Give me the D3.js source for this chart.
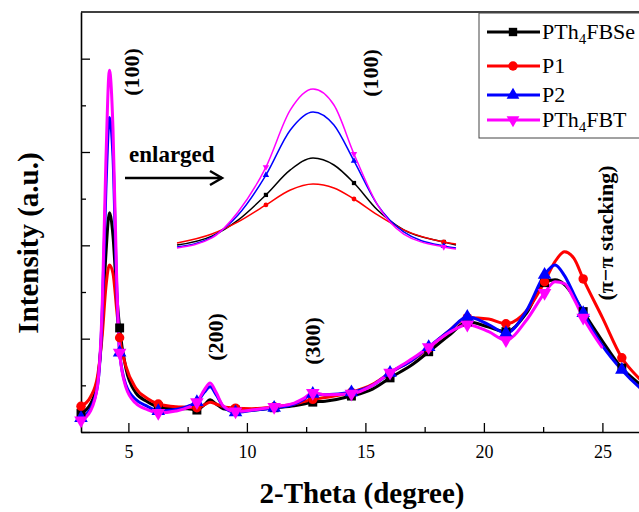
<!DOCTYPE html>
<html>
<head>
<meta charset="utf-8">
<script src="https://cdn.jsdelivr.net/npm/d3@7"></script>
<style>
  body { margin: 0; background: #fff; }
  svg { display: block; }
  svg text { font-family: "Liberation Serif", "Times New Roman", serif; fill: #000; }
</style>
</head>
<body>
<svg id="chart" width="639" height="512" font-family="Liberation Serif"></svg>
<script>
// 2-theta grid that the curves were read on
const theta = [3.0, 3.4, 3.7, 3.9, 4.05, 4.2, 4.35, 4.5, 4.63, 4.9, 5.3, 5.8, 6.26, 7.0, 7.5, 7.89, 8.2, 8.45, 8.7, 9.0,
  9.52, 10.2, 11.15, 12.0, 12.4, 12.78, 13.3, 14.41, 15.3, 16.04, 17.0, 17.67, 18.6, 19.3, 20.2, 20.93, 21.8, 22.56,
  23.0, 23.4, 23.8, 24.19, 25.0, 25.82, 26.6, 27.45]

// intensities (a.u.)
const pth4fbse = [40, 60, 110, 230, 380, 470, 420, 300, 223, 135, 85, 65, 54, 50, 50, 47, 58, 69, 60, 50,
  47, 47, 52, 56, 60, 64, 66, 77, 92, 116, 145, 172, 210, 236, 225, 215, 255, 320,
  326, 316, 290, 258, 195, 137, 102, 70]
const p1 = [55, 75, 120, 210, 310, 358, 340, 265, 202, 140, 95, 72, 60, 54, 53, 52, 58, 64, 60, 54,
  51, 50, 54, 60, 65, 70, 74, 85, 102, 127, 155, 180, 220, 245, 242, 232, 260, 322,
  365, 386, 372, 328, 245, 159, 112, 70]
const p2 = [30, 50, 100, 260, 520, 674, 590, 320, 170, 100, 70, 55, 45, 48, 55, 64, 85, 97, 80, 55,
  42, 46, 52, 60, 70, 82, 80, 85, 100, 127, 155, 182, 220, 247, 230, 212, 260, 337,
  358, 335, 295, 255, 185, 133, 94, 60]
const pth4fbt = [25, 45, 100, 280, 580, 775, 650, 340, 170, 95, 62, 48, 41, 45, 52, 64, 90, 105, 85, 56,
  44, 47, 54, 62, 72, 84, 80, 82, 100, 127, 158, 182, 215, 230, 215, 197, 240, 298,
  322, 318, 285, 245, 180, null, null, null]

const markerTheta = [3.0, 4.63, 6.26, 7.89, 9.52, 11.15, 12.78, 14.41, 16.04, 17.67, 19.3, 20.93, 22.56, 24.19, 25.82, 27.45]

// enlarged (100) peak
const insetTheta = [3.4, 3.6, 3.75, 3.91, 4.05, 4.18, 4.3, 4.415, 4.55, 4.7, 4.93, 5.0]
const insetPTh4FBSe = [2.9, 8.2, 17.6, 32.4, 47.1, 54.1, 50, 39.4, 23.5, 11.8, 4.7, 2.9]
const insetP1 = [4.1, 9.4, 16.5, 26.5, 35.3, 38.8, 36.5, 30, 20.6, 11.8, 4.7, 3.5]
const insetP2 = [1.8, 7.6, 20.6, 44.1, 70.6, 81.2, 73.5, 52.4, 26.5, 10.6, 2.4, 1.2]
const insetPTh4FBT = [1.2, 7.1, 22.4, 48.8, 82.4, 94.7, 85.3, 56.5, 26.5, 9.4, 1.8, 0.6]
const insetMarkerTheta = [3.91, 4.415, 4.93]

const names = ["PTh4FBSe", "P1", "P2", "PTh4FBT"]
const xMajor = [5, 10, 15, 20, 25]
const xMinor = [7.5, 12.5, 17.5, 22.5, 27.5]
const yMajor = [0, 200, 400, 600, 800]
const yMinor = [100, 300, 500, 700]

const colors = ["#000000", "#ff0000", "#0000ff", "#ff00ff"]
const symbols = [d3.symbolSquare, d3.symbolCircle, d3.symbolTriangle, d3.symbolTriangle]
const symRot = [0, 0, 0, 180]

const svg = d3.select("#chart")
const plotLeft = 81, plotTop = 12, plotBottom = 432
const serif = "Liberation Serif"

const x = d3.scaleLinear().domain([3, 30]).range([plotLeft, plotLeft + 27 * 23.7])
const y = d3.scaleLinear().domain([0, 900]).range([plotBottom, plotTop])

// axes, ticks pointing inward
const xAxis = svg.append("g").attr("transform", `translate(0,${plotBottom})`)
  .call(d3.axisBottom(x).tickValues(xMajor).tickSize(-9).tickSizeOuter(0).tickPadding(13))
xAxis.attr("font-family", serif)
xAxis.selectAll("text").attr("font-size", 18).attr("font-family", serif).attr("fill", "#000")
svg.append("g").attr("transform", `translate(0,${plotBottom})`)
  .call(d3.axisBottom(x).tickValues(xMinor).tickSize(-5).tickSizeOuter(0).tickFormat(""))
  .call(g => g.select(".domain").remove())

svg.append("g").attr("transform", `translate(${plotLeft},0)`)
  .call(d3.axisLeft(y).tickValues(yMajor).tickSize(-9).tickSizeOuter(0).tickFormat(""))
svg.append("g").attr("transform", `translate(${plotLeft},0)`)
  .call(d3.axisLeft(y).tickValues(yMinor).tickSize(-5).tickSizeOuter(0).tickFormat(""))
  .call(g => g.select(".domain").remove())

svg.selectAll(".domain").attr("stroke-width", 1.6)
svg.selectAll(".tick line").attr("stroke-width", 1.3)

// top frame
svg.append("line").attr("x1", plotLeft).attr("x2", 639).attr("y1", plotTop).attr("y2", plotTop)
  .attr("stroke", "#000").attr("stroke-width", 1.6)

// main curves
const series = [pth4fbse, p1, p2, pth4fbt]
const line = d3.line()
  .defined(d => d[1] != null)
  .x(d => x(d[0])).y(d => y(d[1]))
  .curve(d3.curveMonotoneX)

series.forEach((vals, i) => {
  const pts = theta.map((t, j) => [t, vals[j]])
  svg.append("path").datum(pts)
    .attr("d", line)
    .attr("fill", "none")
    .attr("stroke", colors[i])
    .attr("stroke-width", 3)
})
series.forEach((vals, i) => {
  const pts = theta.map((t, j) => [t, vals[j]])
    .filter(d => d[1] != null && markerTheta.includes(d[0]))
  svg.append("g").selectAll("path").data(pts).join("path")
    .attr("d", d3.symbol().type(symbols[i]).size(i == 1 ? 70 : 80))
    .attr("transform", d => `translate(${x(d[0])},${y(d[1])}) rotate(${symRot[i]})`)
    .attr("fill", colors[i])
})

// inset
const ix = d3.scaleLinear().domain([3.4, 5.0]).range([177, 456])
const iy = d3.scaleLinear().domain([0, 100]).range([250, 80])
const iline = d3.line().x(d => ix(d[0])).y(d => iy(d[1])).curve(d3.curveMonotoneX)
const insetSeries = [insetPTh4FBSe, insetP1, insetP2, insetPTh4FBT]
insetSeries.forEach((vals, i) => {
  const pts = insetTheta.map((t, j) => [t, vals[j]])
  svg.append("path").datum(pts)
    .attr("d", iline)
    .attr("fill", "none")
    .attr("stroke", colors[i])
    .attr("stroke-width", 1.5)
  svg.append("g").selectAll("path").data(pts.filter(d => insetMarkerTheta.includes(d[0]))).join("path")
    .attr("d", d3.symbol().type(symbols[i]).size(18))
    .attr("transform", d => `translate(${ix(d[0])},${iy(d[1])}) rotate(${symRot[i]})`)
    .attr("fill", colors[i])
})

// annotations
function vlabel(txt, cx, cy, size) {
  svg.append("text")
    .attr("transform", `translate(${cx},${cy}) rotate(-90)`)
    .attr("text-anchor", "middle").attr("dy", "0.35em")
    .attr("font-family", serif)
    .attr("font-size", size).attr("font-weight", "bold")
    .text(txt)
}
vlabel("(100)", 131, 72, 22)
vlabel("(100)", 370, 73, 22)
vlabel("(200)", 215, 337, 22)
vlabel("(300)", 312, 341, 22)
vlabel("(π−π stacking)", 605, 233, 22)

svg.append("text").attr("x", 129).attr("y", 162).attr("font-family", serif)
  .attr("font-size", 23).attr("font-weight", "bold").text("enlarged")
svg.append("line").attr("x1", 125).attr("x2", 222).attr("y1", 178).attr("y2", 178)
  .attr("stroke", "#000").attr("stroke-width", 2.5)
svg.append("path").attr("d", "M210,171 L222,178 L210,185")
  .attr("fill", "none").attr("stroke", "#000").attr("stroke-width", 2.5)

// axis titles
svg.append("text").attr("x", 362).attr("y", 503).attr("text-anchor", "middle").attr("font-family", serif)
  .attr("font-size", 29).attr("font-weight", "bold").text("2-Theta (degree)")
svg.append("text").attr("transform", "translate(28,243) rotate(-90)")
  .attr("text-anchor", "middle").attr("dy", "0.35em").attr("font-family", serif)
  .attr("font-size", 29).attr("font-weight", "bold").text("Intensity (a.u.)")

// legend
const leg = svg.append("g")
leg.append("rect").attr("x", 479).attr("y", 13).attr("width", 200).attr("height", 125)
  .attr("fill", "#fff").attr("stroke", "#444").attr("stroke-width", 1)
const rowY = [32, 66, 95, 120]
names.forEach((n, i) => {
  const g = leg.append("g").attr("transform", `translate(0,${rowY[i]})`)
  g.append("line").attr("x1", 487).attr("x2", 540).attr("stroke", colors[i]).attr("stroke-width", 3)
  g.append("path").attr("d", d3.symbol().type(symbols[i]).size(70))
    .attr("transform", `translate(513,0) rotate(${symRot[i]})`).attr("fill", colors[i])
  const t = g.append("text").attr("x", 542).attr("y", 7).attr("font-size", 22).attr("font-family", serif)
  const m = n.match(/^(PTh)(4)(.*)$/)
  if (m) {
    t.append("tspan").text(m[1])
    t.append("tspan").attr("font-size", 15).attr("dy", 5).text(m[2])
    t.append("tspan").attr("dy", -5).text(m[3])
  } else {
    t.text(n)
  }
})
</script>
</body>
</html>
